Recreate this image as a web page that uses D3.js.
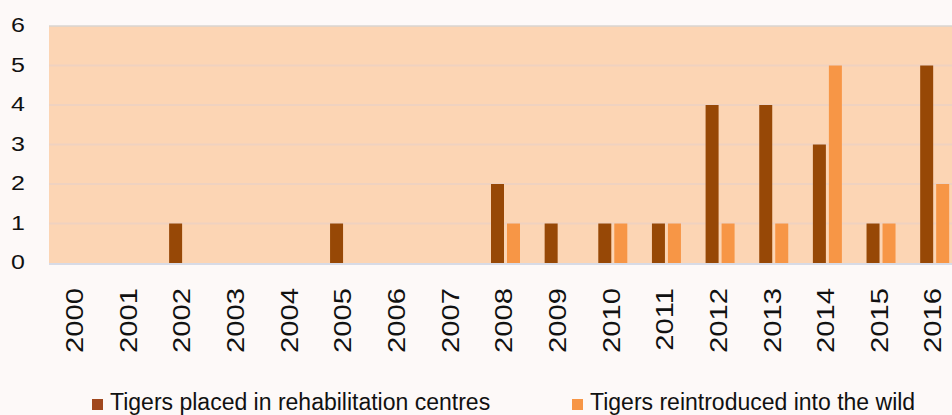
<!DOCTYPE html>
<html lang="en">
<head>
  <meta charset="UTF-8">
  <title>Tigers</title>
  <script src="https://d3js.org/d3.v7.min.js"></script>
  <style>
    body { margin: 0; background: #fdf9f8; font-family: "Liberation Sans", Arial, sans-serif; }
    svg text { fill: #111; }
  </style>
</head>
<body>
  <svg width="952" height="415"></svg>

  <script>
    const years = ["2000","2001","2002","2003","2004","2005","2006","2007","2008",
                   "2009","2010","2011","2012","2013","2014","2015","2016"];
    const rehab = [0,0,1,0,0,1,0,0,2,1,1,1,4,4,3,1,5];
    const wild  = [0,0,0,0,0,0,0,0,1,0,1,1,1,1,5,1,2];
    const seriesNames = ["Tigers placed in rehabilitation centres", "Tigers reintroduced into the wild"];
    const yTicks = [0,1,2,3,4,5,6];

    const svg = d3.select("svg");
    const colors = ["#974806", "#f79646"];

    // plot continues past the right edge of the picture
    const x = d3.scaleBand().domain(years).range([48, 960]);
    const y = d3.scaleLinear().domain([0, 6]).range([263, 26]);
    const cx = d => x(d) + x.bandwidth() / 2;

    svg.append("rect")
      .attr("x", 49).attr("y", y(6))
      .attr("width", 952 - 49).attr("height", y(0) - y(6))
      .attr("fill", "#fcd5b4");

    svg.append("line")
      .attr("x1", 49).attr("x2", 952).attr("y1", y(6)).attr("y2", y(6))
      .attr("stroke", "#d9d4d2").attr("stroke-width", 1.5);

    svg.append("g")
      .selectAll("line")
      .data(yTicks.filter(d => d > 0 && d < 6))
      .join("line")
      .attr("x1", 49).attr("x2", 952)
      .attr("y1", d => y(d)).attr("y2", d => y(d))
      .attr("stroke", "#efd2c0").attr("stroke-width", 2);

    svg.append("line")
      .attr("x1", 49).attr("x2", 952).attr("y1", y(0) + 1).attr("y2", y(0) + 1)
      .attr("stroke", "#d8dbe6").attr("stroke-width", 2);

    const bw = 13;
    const rows = years.map((yr, i) => ({ yr, vals: [rehab[i], wild[i]] }));

    svg.append("g")
      .selectAll("g")
      .data(rows)
      .join("g")
      .selectAll("rect")
      .data(d => d.vals.map((v, k) => ({ yr: d.yr, v, k })))
      .join("rect")
      .filter(d => d.v > 0)
      .attr("x", d => cx(d.yr) + (d.k === 0 ? -bw : 3))
      .attr("width", bw)
      .attr("y", d => y(d.v))
      .attr("height", d => y(0) - y(d.v))
      .attr("fill", d => colors[d.k]);

    // tick labels look stretched in the original, hence the scale()
    svg.append("g")
      .selectAll("text")
      .data(yTicks)
      .join("text")
      .attr("transform", d => `translate(25,${y(d) - 1}) scale(1.25,1)`)
      .attr("dy", "0.36em")
      .attr("text-anchor", "end")
      .attr("font-size", 20)
      .text(d => d);

    svg.append("g")
      .selectAll("text")
      .data(years)
      .join("text")
      .attr("transform", d => `translate(${cx(d)},288) rotate(-90) scale(1.27,1)`)
      .attr("dy", "0.36em")
      .attr("text-anchor", "end")
      .attr("font-size", 23)
      .text(d => d);

    const legend = svg.append("g")
      .selectAll("g")
      .data(seriesNames)
      .join("g")
      .attr("transform", (d, i) => `translate(${i === 0 ? 92 : 572},399)`);

    legend.append("rect")
      .attr("width", 11).attr("height", 11)
      .attr("fill", (d, i) => i === 0 ? "#a0481e" : colors[1]);

    legend.append("text")
      .attr("x", 18).attr("y", 11)
      .attr("font-size", 23)
      .text(d => d);
  </script>
</body>
</html>
